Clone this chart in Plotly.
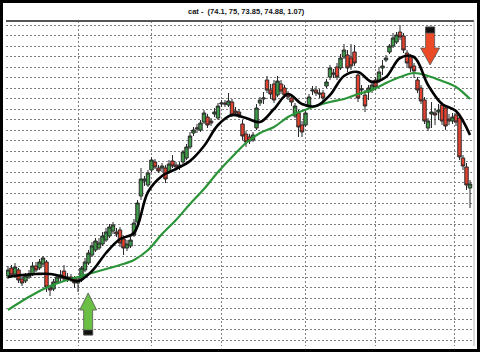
import plotly.graph_objects as go

# ---------------- data (price units, index = trading day) ----------------
opens = [64.9, 65.7, 65.1, 65.5, 64.6, 64.4, 64.8, 65.1, 65.9, 65.7,
         66.1, 66.3, 63.7, 63.6, 64.3, 64.7, 65.4, 64.5, 64.8, 64.7,
         64.2, 64.5, 65.5, 66.2, 67.0, 67.5, 67.7, 68.1, 68.5, 68.9,
         69.4, 69.3, 69.5, 68.6, 67.7, 67.9, 69.0, 70.3, 72.9, 74.4,
         74.0, 75.5, 76.3, 75.7, 75.7, 75.7, 75.3, 76.4, 76.0, 75.8,
         76.3, 76.7, 77.8, 79.2, 79.6, 79.5, 80.3, 80.8, 80.4, 81.1,
         80.7, 82.1, 82.2, 82.0, 82.3, 81.4, 81.3, 80.1, 79.1, 78.8,
         78.5, 79.7, 82.2, 82.6, 84.5, 83.5, 84.1, 83.0, 84.1, 83.7,
         83.1, 82.7, 80.9, 81.2, 80.0, 80.0, 81.9, 83.4, 83.5, 83.2,
         83.2, 83.9, 84.8, 85.2, 85.8, 85.7, 86.8, 87.0, 86.7, 87.3,
         85.0, 83.5, 83.0, 83.3, 83.5, 84.5, 84.5, 85.7, 86.5, 87.3,
         87.9, 88.3, 89.3, 88.9, 87.2, 86.8, 85.9, 84.5, 83.7, 82.5,
         79.7, 81.1, 81.2, 81.3, 82.0, 81.7, 80.6, 80.4, 81.0, 80.7,
         76.7, 75.8, 73.7]
closes = [65.5, 65.0, 65.8, 64.5, 64.2, 64.9, 65.1, 65.9, 65.5, 66.3,
          66.7, 63.8, 63.5, 64.3, 64.8, 65.0, 64.6, 64.8, 64.6, 64.2,
          64.5, 65.7, 66.3, 67.2, 67.9, 68.4, 68.2, 68.9, 69.3, 69.8,
          70.0, 69.1, 68.2, 67.7, 68.1, 68.5, 70.2, 72.2, 74.6, 74.6,
          75.2, 76.5, 75.8, 75.4, 75.9, 74.6, 76.1, 75.9, 75.8, 76.0,
          77.3, 77.8, 78.9, 79.5, 79.7, 80.2, 81.2, 80.0, 80.2, 81.3,
          81.9, 82.2, 82.1, 82.4, 81.0, 81.2, 81.0, 78.9, 78.3, 78.4,
          79.0, 81.7, 82.5, 82.7, 83.5, 83.1, 82.5, 84.4, 83.4, 83.0,
          82.8, 82.3, 81.9, 79.8, 79.3, 81.2, 82.8, 83.5, 83.2, 83.1,
          82.7, 84.3, 85.7, 85.1, 84.8, 86.7, 87.5, 85.7, 85.9, 86.2,
          82.7, 83.6, 81.9, 83.7, 84.0, 83.8, 85.3, 85.9, 86.7, 87.9,
          88.7, 89.0, 88.8, 87.5, 86.2, 85.7, 85.4, 83.5, 82.4, 80.4,
          80.4, 81.3, 81.0, 81.5, 80.4, 79.9, 80.4, 80.8, 80.3, 76.8,
          75.9, 74.0, 74.1]
highs = [65.9, 66.0, 66.2, 65.7, 64.9, 65.2, 65.5, 66.3, 66.3, 66.6,
         66.9, 66.5, 64.0, 64.6, 65.1, 65.5, 66.0, 65.2, 65.1, 64.9,
         64.8, 65.9, 66.7, 67.5, 68.3, 68.7, 68.7, 69.3, 69.7, 70.1,
         70.3, 69.7, 69.8, 68.9, 68.5, 68.8, 70.6, 72.5, 75.7, 74.9,
         75.5, 76.8, 76.6, 76.0, 76.2, 76.0, 76.5, 77.0, 76.3, 76.3,
         77.5, 78.1, 79.3, 79.8, 80.1, 80.5, 81.5, 81.1, 80.7, 81.7,
         82.2, 82.5, 82.5, 83.2, 82.6, 81.8, 81.6, 80.5, 79.4, 79.1,
         79.3, 82.1, 82.8, 83.3, 84.9, 84.1, 84.5, 84.9, 84.5, 84.0,
         83.4, 83.0, 82.2, 81.5, 80.4, 81.5, 83.1, 83.9, 83.9, 83.6,
         83.5, 84.6, 86.0, 85.6, 86.2, 87.1, 88.1, 87.5, 88.1, 88.0,
         85.3, 84.0, 83.5, 84.0, 84.5, 84.8, 85.7, 86.5, 87.0, 88.1,
         89.2, 89.3, 90.0, 89.2, 87.5, 87.1, 86.2, 84.8, 84.0, 82.8,
         80.7, 82.3, 81.7, 82.1, 82.3, 82.0, 81.1, 81.2, 81.2, 81.0,
         77.0, 76.2, 74.5]
lows = [64.6, 64.8, 64.9, 64.2, 63.9, 64.2, 64.6, 64.9, 65.3, 65.5,
        65.9, 63.3, 62.9, 63.4, 64.1, 64.4, 64.4, 64.3, 64.3, 63.7,
        63.3, 64.3, 65.3, 66.0, 66.8, 67.3, 67.5, 67.9, 68.3, 68.7,
        69.1, 68.8, 67.8, 67.0, 67.4, 67.7, 68.8, 70.1, 72.5, 73.9,
        73.8, 75.3, 75.6, 75.2, 75.3, 74.2, 75.1, 75.7, 75.5, 75.5,
        76.1, 76.5, 77.6, 78.9, 79.2, 79.3, 80.1, 79.7, 79.9, 80.8,
        80.5, 81.8, 81.8, 81.8, 80.8, 80.9, 80.7, 78.5, 77.8, 78.1,
        78.3, 79.5, 81.9, 82.1, 83.2, 82.6, 82.2, 82.8, 83.1, 82.7,
        82.5, 81.9, 80.7, 78.8, 78.8, 79.8, 81.7, 83.0, 82.9, 82.7,
        82.4, 83.7, 84.5, 84.7, 84.5, 85.5, 86.6, 85.3, 85.5, 85.9,
        82.3, 83.0, 81.3, 82.5, 83.2, 83.5, 84.2, 85.0, 86.3, 87.1,
        87.7, 88.1, 88.5, 87.2, 85.8, 85.3, 84.7, 83.2, 82.1, 80.1,
        79.4, 79.7, 80.0, 80.5, 80.0, 79.5, 80.0, 80.1, 79.9, 76.5,
        75.5, 73.5, 71.7]

# moving averages read every 4th session
ma_step = 4
fast_ma = [64.8, 65.0, 65.1, 65.1, 64.8, 64.4, 65.4, 67.2, 68.6, 69.2,
           73.3, 74.9, 75.6, 76.4, 77.9, 80.0, 81.0, 80.7, 80.3, 81.6,
           83.1, 82.1, 81.9, 83.0, 84.9, 85.3, 84.3, 84.8, 86.7, 86.8,
           84.0, 82.1, 81.4, 79.0]
slow_ma = [61.5, 62.4, 63.2, 63.9, 64.4, 64.8, 65.2, 65.6, 66.0, 66.5,
           67.5, 69.1, 70.5, 72.1, 73.6, 75.3, 76.8, 78.2, 79.2, 79.8,
           80.8, 81.4, 81.9, 82.3, 82.6, 83.1, 83.5, 84.2, 84.8, 85.2,
           84.9, 84.4, 83.8, 82.6]

month_breaks = [20, 41.1, 61.1, 84.9, 104.9, 127.7]
signal_index = [22.9, 120.6]
signal_price = [63.2, 86.0]
title_text = "cat -  (74.1, 75, 73.85, 74.88, 1.07)"

# ---------------- figure ----------------
idx = list(range(len(closes)))
ma_idx = list(range(0, len(closes), ma_step))

fig = go.Figure()
fig.add_trace(go.Candlestick(
    x=idx, open=opens, high=highs, low=lows, close=closes,
    increasing=dict(fillcolor="#3d9a47", line=dict(color="#2a2a2a", width=1)),
    decreasing=dict(fillcolor="#e4402e", line=dict(color="#2a2a2a", width=1)),
    whiskerwidth=0, showlegend=False, hoverinfo="skip"))
fig.add_trace(go.Scatter(x=ma_idx, y=slow_ma, mode="lines",
                         line=dict(color="#2b9438", width=2.2, shape="spline"),
                         showlegend=False, hoverinfo="skip"))
fig.add_trace(go.Scatter(x=ma_idx, y=fast_ma, mode="lines",
                         line=dict(color="#000000", width=2.6, shape="spline"),
                         showlegend=False, hoverinfo="skip"))

L, R, T, B = 6, 6, 21, 6
W, H = 480, 352
pw, ph = W - L - R, H - T - B

def px(xp):
    return (xp - L) / pw

def py(yp):
    return (H - B - yp) / ph

shapes = []
up_path = "M 0 0 L 8.5 -17 L 4.5 -17 L 4.5 -42 L -4.5 -42 L -4.5 -17 L -8.5 -17 Z"
up_cap = "M -4.5 -37 L 4.5 -37 L 4.5 -42 L -4.5 -42 Z"
dn_path = "M 0 0 L 9.5 17 L 4.5 17 L 4.5 38 L -4.5 38 L -4.5 17 L -9.5 17 Z"
dn_cap = "M -4.5 32 L 4.5 32 L 4.5 38 L -4.5 38 Z"
for path, fill, (xi, yi) in [(up_path, "#6cbf45", (signal_index[0], signal_price[0])),
                              (up_cap, "#111111", (signal_index[0], signal_price[0])),
                              (dn_path, "#ea4a26", (signal_index[1], signal_price[1])),
                              (dn_cap, "#111111", (signal_index[1], signal_price[1]))]:
    shapes.append(dict(type="path", xref="x", yref="y", xsizemode="pixel", ysizemode="pixel",
                       xanchor=xi, yanchor=yi, path=path, fillcolor=fill,
                       line=dict(color="#555555", width=0.8), layer="above"))

shapes.append(dict(type="line", xref="paper", yref="paper", x0=0, x1=1, y0=1, y1=1,
                   line=dict(color="#555555", width=2)))
shapes.append(dict(type="line", xref="paper", yref="paper", x0=1, x1=1, y0=0, y1=1,
                   line=dict(color="#bbbbbb", width=1)))
shapes.append(dict(type="rect", xref="paper", yref="paper",
                   x0=px(1.5), x1=px(W - 1.5), y0=py(H - 1.5), y1=py(1.5),
                   line=dict(color="#000000", width=3), fillcolor="rgba(0,0,0,0)"))

fig.update_layout(
    width=W, height=H,
    margin=dict(l=L, r=R, t=T, b=B, pad=0),
    paper_bgcolor="white", plot_bgcolor="white",
    boxgap=0.02, boxgroupgap=0,
    showlegend=False,
    shapes=shapes,
    annotations=[dict(text="<b>" + title_text + "</b>", xref="paper", yref="paper",
                      x=px(247), y=py(11.5), xanchor="center", yanchor="middle",
                      showarrow=False, font=dict(family="Liberation Sans, Arial", size=7.5,
                                                 color="#111111"))],
    xaxis=dict(range=[-0.57, 133.14], rangeslider=dict(visible=False),
               tickmode="array", tickvals=month_breaks, showticklabels=False,
               showgrid=True, gridcolor="#808080", griddash="2px,2px", gridwidth=1,
               zeroline=False, showline=False, ticks=""),
    yaxis=dict(range=[57.9, 90.4], tickmode="linear", tick0=90, dtick=1.05,
               showticklabels=False, showgrid=True, gridcolor="#808080",
               griddash="2px,2px", gridwidth=1, zeroline=False, showline=False, ticks=""),
)

fig.write_html("out.html")
